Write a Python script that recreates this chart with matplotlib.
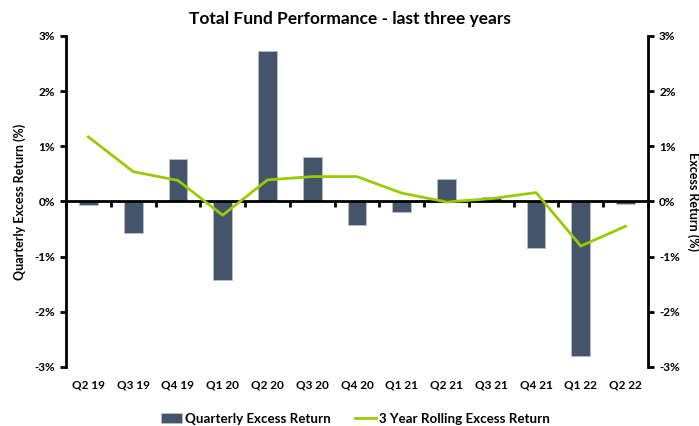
import matplotlib
matplotlib.use("Agg")
import matplotlib.pyplot as plt
import numpy as np
from matplotlib.ticker import FuncFormatter

plt.rcParams['font.family'] = ['Lato', 'DejaVu Sans']

categories = ["Q2 19", "Q3 19", "Q4 19", "Q1 20", "Q2 20", "Q3 20", "Q4 20",
              "Q1 21", "Q2 21", "Q3 21", "Q4 21", "Q1 22", "Q2 22"]
quarterly = [-0.07, -0.58, 0.76, -1.43, 2.72, 0.80, -0.42, -0.19, 0.40, 0.08, -0.84, -2.81, -0.04]
rolling = [1.17, 0.54, 0.38, -0.25, 0.39, 0.45, 0.45, 0.15, -0.01, 0.05, 0.16, -0.81, -0.45]
yticks = [-3, -2, -1, 0, 1, 2, 3]

bar_color = "#44546A"
line_color = "#99CC00"

fig = plt.figure(figsize=(6.99, 4.26), dpi=100)
ax = fig.add_axes([0.0944, 0.139, 0.8326, 0.7765])
x = np.arange(len(categories))

bars = ax.bar(x, quarterly, width=0.42, color=bar_color, edgecolor="#B8BEC8",
              linewidth=0.6, label="Quarterly Excess Return", zorder=2)
ax2 = ax.twinx()
line, = ax2.plot(x, rolling, color=line_color, linewidth=2,
                 label="3 Year Rolling Excess Return", zorder=3)

for a in (ax, ax2):
    a.set_ylim(-3, 3)
    a.set_xlim(-0.5, len(categories) - 0.5)
    a.set_yticks(yticks)
    a.yaxis.set_major_formatter(FuncFormatter(lambda v, p: f"{int(v)}%"))
    a.spines["top"].set_visible(False)

ax.spines["right"].set_visible(False)
ax2.spines["left"].set_visible(False)
ax2.spines["bottom"].set_visible(False)
ax.spines["left"].set_linewidth(2)
ax2.spines["right"].set_linewidth(2)
ax.spines["bottom"].set_position(("data", 0))
ax.spines["bottom"].set_linewidth(2)

ax.tick_params(axis="y", direction="out", length=4, width=2, labelsize=8.5, pad=4)
ax2.tick_params(axis="y", direction="out", length=4, width=2, labelsize=8.5, pad=4)
for lbl in ax.get_yticklabels() + ax2.get_yticklabels():
    lbl.set_fontweight("bold")

# category boundary ticks on the zero line
ax.set_xticks(np.arange(len(categories) + 1) - 0.5)
ax.set_xticklabels([])
ax.tick_params(axis="x", direction="out", length=4, width=2)

# category labels at the bottom
sec = ax.secondary_xaxis(0.0)
sec.set_xticks(x)
sec.set_xticklabels(categories, fontweight="bold", fontsize=8.5)
sec.tick_params(length=0, pad=9)
sec.spines["bottom"].set_visible(False)

ax.set_ylabel("Quarterly Excess Return (%)", fontsize=9, fontweight="bold", labelpad=6)
ax2.set_ylabel("Excess Return (%)", fontsize=9, fontweight="bold", rotation=-90, labelpad=14)

fig.suptitle("Total Fund Performance - last three years", fontsize=12.5,
             fontweight="bold", x=0.5, y=0.975)

fig.legend(handles=[bars, line], loc="lower center", bbox_to_anchor=(0.508, -0.025),
           ncol=2, frameon=False, prop={"weight": "bold", "size": 9.6},
           handlelength=1.6, handletextpad=0.2, columnspacing=1.8)

fig.savefig("out.png", dpi=100)
